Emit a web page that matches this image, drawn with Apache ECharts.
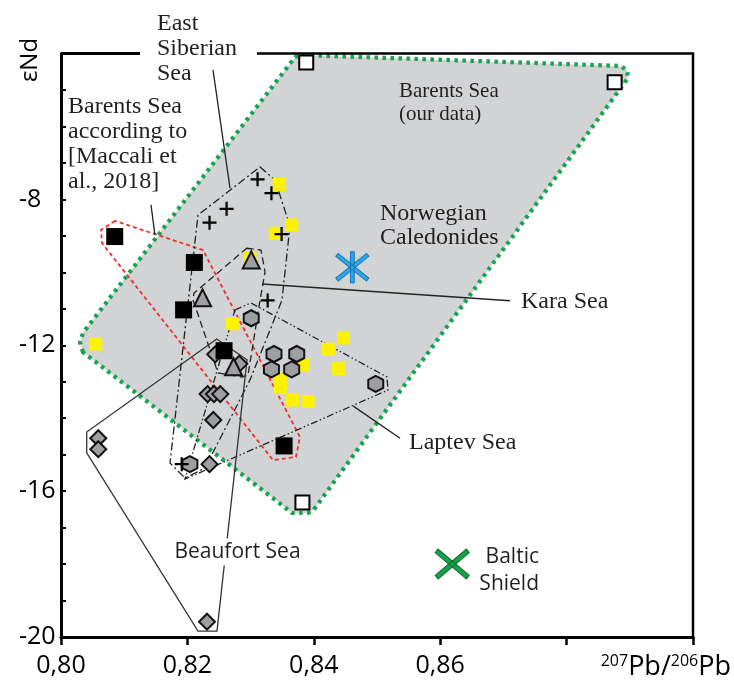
<!DOCTYPE html>
<html>
<head>
<meta charset="utf-8">
<script src="https://cdn.jsdelivr.net/npm/echarts@6/dist/echarts.min.js"></script>
<style>
html,body{margin:0;padding:0;background:#fff;}
#chart{width:734px;height:686px;}
</style>
</head>
<body>
<div id="chart"></div>
<script>
// ---------- DATA ----------
const xTickValues = [0.80, 0.82, 0.84, 0.86];
const yTickValues = [-8, -12, -16, -20];

// Barents Sea (our data) – open squares
const barentsOurData = [[0.8388,-4.25],[0.8876,-4.79],[0.8382,-16.31]];
// Barents Sea according to Maccali et al., 2018 – black squares
const barentsMaccali = [[0.8085,-9.02],[0.8211,-9.73],[0.8194,-11.03],[0.8258,-12.15],[0.8353,-14.76]];
// yellow squares
const yellowSamples = [[0.8055,-11.97],[0.8345,-7.59],[0.8365,-8.70],[0.8339,-8.93],[0.8299,-9.61],[0.8271,-11.41],
  [0.8447,-11.80],[0.8423,-12.11],[0.8382,-12.54],[0.8439,-12.64],[0.8347,-12.93],[0.8347,-13.15],[0.8366,-13.50],[0.8391,-13.54]];
// East Siberian Sea – crosses
const eastSiberian = [[0.8311,-7.45],[0.8333,-7.83],[0.8262,-8.26],[0.8235,-8.64],[0.8349,-8.95],[0.8327,-10.77],[0.8191,-15.26]];
// Kara Sea – triangles
const karaSea = [[0.8301,-9.66],[0.8224,-10.70],[0.8273,-12.59]];
// Laptev Sea – hexagons
const laptevSea = [[0.8301,-11.26],[0.8337,-12.24],[0.8373,-12.24],[0.8333,-12.66],[0.8365,-12.66],[0.8498,-13.06],[0.8204,-15.26]];
// Beaufort Sea – diamonds
const beaufortSea = [[0.8059,-14.55],[0.8059,-14.85],[0.8244,-12.25],[0.8282,-12.51],[0.8232,-13.34],[0.8242,-13.34],
  [0.8252,-13.34],[0.8241,-14.05],[0.8235,-15.26],[0.8231,-19.58]];
// end members
const norwegianCaledonides = [[0.8461,-9.86]];
const balticShield = [[0.8619,-18.0]];

// field outlines
const barentsOurRegion = [[0.80348,-12.19],[0.80301,-11.91],[0.80348,-11.66],[0.83703,-4.10],[0.83782,-4.04],[0.88845,-4.34],
  [0.88956,-4.45],[0.88972,-4.67],[0.83987,-16.54],[0.83908,-16.60],[0.83655,-16.60],[0.83576,-16.49],[0.80506,-12.40]];
const maccaliRegion = [[0.80854,-8.59],[0.80633,-8.84],[0.80649,-9.20],[0.83354,-15.15],[0.83718,-15.06],[0.83782,-14.52],[0.82247,-9.39]];
const eastSiberianRegion = [[0.83149,-7.11],[0.83386,-7.47],[0.83623,-8.73],[0.83497,-10.76],[0.82991,-12.95],[0.82278,-15.37],
  [0.81962,-15.64],[0.81725,-15.23],[0.81962,-11.58],[0.82168,-8.43]];
const karaRegion = [[0.82938,-9.34],[0.83165,-9.39],[0.83228,-9.99],[0.83149,-10.77],[0.82959,-12.82],[0.82864,-12.87],
  [0.82484,-12.76],[0.82089,-10.76],[0.82104,-10.57]];
const laptevRegion = [[0.82753,-11.03],[0.83006,-10.84],[0.85158,-12.87],[0.85174,-13.23],[0.81962,-15.67]];
const beaufortRegion = [[0.82464,-11.83],[0.82943,-12.40],[0.82468,-19.84],[0.82168,-19.84],[0.80407,-14.95],[0.80407,-14.38]];

// ---------- CHART ----------
const chart = echarts.init(document.getElementById('chart'), null, {renderer:'canvas'});
const SANS = '"Open Sans", "Liberation Sans", sans-serif';
const SERIF = '"Liberation Serif", "DejaVu Serif", serif';
const TXT = '#231f20';

function shapeSeries(name, pts, style, closed, z) {
  return {
    type: 'custom', name: name, coordinateSystem: 'cartesian2d', silent: true, z: z,
    data: [[pts[0][0], pts[0][1]]],
    renderItem: function (params, api) {
      return {
        type: closed ? 'polygon' : 'polyline',
        shape: { points: pts.map(function (p) { return api.coord(p); }) },
        style: Object.assign({ fill: closed ? style.fill || 'none' : 'none' }, style)
      };
    }
  };
}

const leaders = [
  [[0.82405,-4.45],[0.82674,-7.69]],
  [[0.81424,-8.15],[0.81487,-8.98]],
  [[0.83180,-10.32],[0.87104,-10.78]],
  [[0.84625,-13.67],[0.85364,-14.55]]
];

const hexPath = 'path://M0,-1L0.866,-0.5L0.866,0.5L0,1L-0.866,0.5L-0.866,-0.5Z';
const crossPath = 'path://M4.2,0h1.6v4.2h4.2v1.6h-4.2v4.2h-1.6v-4.2h-4.2v-1.6h4.2z';
const starPath = 'path://M44,0L56,0L56,100L44,100Z M-3.75,14.69L96.25,94.69L103.75,85.31L3.75,5.31Z M3.75,94.69L103.75,14.69L96.25,5.31L-3.75,85.31Z';
const xPath = 'path://M-4.5,15.6L95.5,95.6L104.5,84.4L4.5,4.4Z M4.5,95.6L104.5,15.6L95.5,4.4L-4.5,84.4Z';

const series = [
  shapeSeries('Barents region', barentsOurRegion, {fill:'#d1d3d4', stroke:'#14a44d', lineWidth:4.2, lineDash:[3.5,4.5]}, true, 1),
  shapeSeries('Maccali region', maccaliRegion, {stroke:'#ee3124', lineWidth:1.8, lineDash:[4,3]}, true, 2),
  shapeSeries('East Siberian region', eastSiberianRegion, {stroke:'#222', lineWidth:1.3, lineDash:[8,3,2,3]}, true, 2),
  shapeSeries('Kara region', karaRegion, {stroke:'#222', lineWidth:1.3, lineDash:[7,4]}, true, 2),
  shapeSeries('Laptev region', laptevRegion, {stroke:'#222', lineWidth:1.3, lineDash:[7,2.5,1.5,2.5,1.5,2.5]}, true, 2),
  shapeSeries('Beaufort region', beaufortRegion, {stroke:'#333', lineWidth:1.3}, true, 2)
];
leaders.forEach(function (l, i) {
  series.push(shapeSeries('leader' + i, l, {stroke:'#222', lineWidth:1.3}, false, 2));
});
// frame (top with gap for label, right side)
series.push({
  type:'custom', name:'frame', coordinateSystem:'cartesian2d', silent:true, z:5,
  data:[[0.8,-4]],
  renderItem:function(params, api){
    return {type:'group', children:[
      {type:'polyline', shape:{points:[api.coord([0.8,-4]), api.coord([0.8125,-4])]}, style:{stroke:'#000', lineWidth:3}},
      {type:'polyline', shape:{points:[api.coord([0.831,-4]), api.coord([0.9,-4]), api.coord([0.9,-20])]}, style:{stroke:'#000', lineWidth:2.5, fill:'none'}}
    ]};
  }
});

function scat(name, data, symbol, size, itemStyle, z) {
  return {type:'scatter', name:name, data:data, symbol:symbol, symbolSize:size,
    itemStyle:Object.assign({opacity:1}, itemStyle), z:z, silent:true};
}
const grayMark = '#9d9fa2';
series.push(scat('Barents Sea (our data)', barentsOurData, 'rect', 14, {color:'#fff', borderColor:'#000', borderWidth:2}, 10));
series.push(scat('yellow', yellowSamples, 'rect', 13, {color:'#fff200'}, 10));
series.push(scat('Beaufort Sea', beaufortSea, 'diamond', 16, {color:grayMark, borderColor:'#111', borderWidth:2}, 11));
series.push(scat('Barents Sea Maccali', barentsMaccali, 'rect', 17, {color:'#000'}, 12));
series.push(scat('Kara Sea', karaSea, 'triangle', 17, {color:grayMark, borderColor:'#111', borderWidth:2}, 13));
series.push(scat('Laptev Sea', laptevSea, hexPath, [15,16], {color:grayMark, borderColor:'#111', borderWidth:2}, 13));
series.push(scat('East Siberian Sea', eastSiberian, crossPath, 14, {color:'#000'}, 14));
series.push(scat('Norwegian Caledonides', norwegianCaledonides, starPath, [33,31], {color:'#29abe2', borderColor:'#1b75bb', borderWidth:1}, 14));
series.push(scat('Baltic Shield', balticShield, xPath, [34,30], {color:'#19a04b', borderColor:'#0b6d33', borderWidth:1}, 14));

const option = {
  backgroundColor:'#fff',
  animation:false,
  grid:{left:61, right:41, top:53.5, bottom:49, containLabel:false},
  xAxis:{
    type:'value', min:0.8, max:0.9, interval:0.02,
    axisLine:{show:true, onZero:false, lineStyle:{color:'#000', width:3}},
    axisTick:{show:true, inside:false, length:8, lineStyle:{color:'#000', width:2.5}},
    splitLine:{show:false},
    axisLabel:{
      margin:16, fontSize:25, fontFamily:SANS, color:'#000',
      formatter:function(v){
        for (var i=0;i<xTickValues.length;i++){ if (Math.abs(v-xTickValues[i])<1e-6) return xTickValues[i].toFixed(2).replace('.',','); }
        return '';
      }
    }
  },
  yAxis:{
    type:'value', min:-20, max:-4, interval:1,
    axisLine:{show:true, onZero:false, lineStyle:{color:'#000', width:3}},
    axisTick:{show:true, inside:true, length:5, lineStyle:{color:'#000', width:2}},
    splitLine:{show:false},
    axisLabel:{
      margin:42, align:'left', fontSize:25, fontFamily:SANS, color:'#000',
      formatter:function(v){ return yTickValues.indexOf(Math.round(v))>=0 && Math.abs(v-Math.round(v))<1e-6 ? String(Math.round(v)) : ''; }
    }
  },
  series:series,
  graphic:[
    {type:'text', z:100, x:30, y:60, rotation:Math.PI/2, style:{text:'εNd', font:'24px '+SANS, fill:'#000', textAlign:'center', textVerticalAlign:'middle'}},
    {type:'text', z:100, x:731, y:667, style:{
      text:'{s|207}{n|Pb/}{s|206}{n|Pb}', textAlign:'right', textVerticalAlign:'middle',
      rich:{ s:{fontSize:16, fontFamily:SANS, fill:'#000', verticalAlign:'top', padding:[0,0,12,0]}, n:{fontSize:27, fontFamily:SANS, fill:'#000'} }
    }},
    {type:'text', z:100, x:157, y:11.5, style:{text:'East\nSiberian\nSea', font:'24px '+SERIF, fill:TXT, lineHeight:25, textVerticalAlign:'top'}},
    {type:'text', z:100, x:68, y:94.5, style:{text:'Barents Sea\naccording to\n[Maccali et\nal., 2018]', font:'24px '+SERIF, fill:TXT, lineHeight:25, textVerticalAlign:'top'}},
    {type:'text', z:100, x:399, y:80.3, style:{text:'Barents Sea\n(our data)', font:'21px '+SERIF, fill:TXT, lineHeight:22.5, textVerticalAlign:'top'}},
    {type:'text', z:100, x:380, y:201.4, style:{text:'Norwegian\nCaledonides', font:'24px '+SERIF, fill:TXT, lineHeight:24, textVerticalAlign:'top'}},
    {type:'text', z:100, x:521, y:301.4, style:{text:'Kara Sea', font:'24px '+SERIF, fill:TXT, textVerticalAlign:'middle'}},
    {type:'text', z:100, x:409, y:443, style:{text:'Laptev Sea', font:'24px '+SERIF, fill:TXT, textVerticalAlign:'middle'}},
    {type:'text', z:100, x:237.5, y:552, style:{text:'Beaufort Sea', font:'21px '+SANS, fill:TXT, textAlign:'center', textVerticalAlign:'middle', backgroundColor:'#fff', padding:[3,2]}},
    {type:'text', z:100, x:539, y:544, style:{text:'Baltic\nShield', font:'21px '+SANS, fill:TXT, lineHeight:27, textAlign:'right', textVerticalAlign:'top'}}
  ]
};
chart.setOption(option);
</script>
</body>
</html>
